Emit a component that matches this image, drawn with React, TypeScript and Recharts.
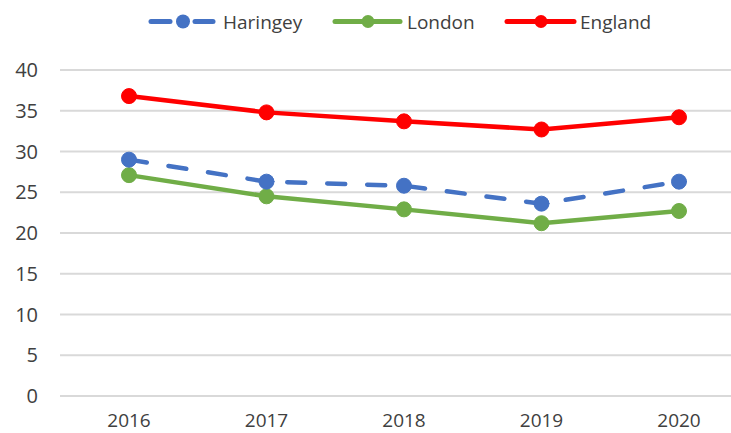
import { LineChart, Line, XAxis, YAxis, CartesianGrid } from 'recharts'

const years = ['2016', '2017', '2018', '2019', '2020']
const haringey = [29.0, 26.3, 25.8, 23.6, 26.3]
const london = [27.1, 24.5, 22.9, 21.2, 22.7]
const england = [36.8, 34.8, 33.7, 32.7, 34.2]
const yTicks = [0, 5, 10, 15, 20, 25, 30, 35, 40]

const data = years.map((year, i) => ({
  year,
  haringey: haringey[i],
  london: london[i],
  england: england[i],
}))

const FONT = "'Open Sans', 'Noto Sans', sans-serif"
const TEXT = '#404040'

const COLORS = {
  haringey: '#4472C4',
  london: '#70AD47',
  england: '#FF0000',
}

function LegendBar() {
  return (
    <svg
      width={731}
      height={45}
      style={{ position: 'absolute', left: 0, top: 0, pointerEvents: 'none' }}
    >
      {/* Haringey - dashed */}
      <line x1={151} y1={21.5} x2={170} y2={21.5} stroke={COLORS.haringey} strokeWidth={5} strokeLinecap="round" />
      <line x1={195} y1={21.5} x2={213} y2={21.5} stroke={COLORS.haringey} strokeWidth={5} strokeLinecap="round" />
      <circle cx={183} cy={21.5} r={7} fill={COLORS.haringey} />
      <text x={223} y={29} fontSize={19} fontFamily={FONT} fill={TEXT}>Haringey</text>

      {/* London */}
      <line x1={335} y1={21.5} x2={400} y2={21.5} stroke={COLORS.london} strokeWidth={5} strokeLinecap="round" />
      <circle cx={368} cy={21.5} r={6.5} fill={COLORS.london} />
      <text x={407} y={29} fontSize={19} fontFamily={FONT} fill={TEXT}>London</text>

      {/* England */}
      <line x1={507} y1={21.5} x2={574} y2={21.5} stroke={COLORS.england} strokeWidth={5} strokeLinecap="round" />
      <circle cx={541} cy={21.5} r={6.5} fill={COLORS.england} />
      <text x={580} y={29} fontSize={19} fontFamily={FONT} fill={TEXT}>England</text>
    </svg>
  )
}

export default function App() {
  return (
    <div
      style={{
        position: 'absolute',
        left: 0,
        top: 0,
        width: 731,
        height: 433,
        overflow: 'hidden',
        background: '#fff',
      }}
    >
      <LineChart
        width={748}
        height={433}
        data={data}
        margin={{ top: 70, right: 0, left: 0, bottom: 0 }}
      >
        <CartesianGrid vertical={false} stroke="#D9D9D9" strokeWidth={2} />
        <XAxis
          dataKey="year"
          axisLine={false}
          tickLine={false}
          tickSize={0}
          tickMargin={18}
          height={37}
          padding={{ left: 69, right: 69 }}
          tick={{ fill: TEXT, fontSize: 19, fontFamily: FONT }}
        />
        <YAxis
          domain={[0, 40]}
          ticks={yTicks}
          axisLine={false}
          tickLine={false}
          tickSize={0}
          tickMargin={22}
          width={60}
          tick={{ fill: TEXT, fontSize: 20, fontFamily: FONT }}
        />
        <Line
          dataKey="england"
          stroke={COLORS.england}
          strokeWidth={4.5}
          dot={{ r: 7.5, fill: COLORS.england, stroke: COLORS.england, strokeWidth: 1 }}
          isAnimationActive={false}
        />
        <Line
          dataKey="london"
          stroke={COLORS.london}
          strokeWidth={4.5}
          dot={{ r: 7.5, fill: COLORS.london, stroke: COLORS.london, strokeWidth: 1 }}
          isAnimationActive={false}
        />
        <Line
          dataKey="haringey"
          stroke={COLORS.haringey}
          strokeWidth={4.5}
          strokeDasharray="18 22"
          strokeLinecap="round"
          dot={{ r: 7.5, fill: COLORS.haringey, stroke: COLORS.haringey, strokeWidth: 1, strokeDasharray: '' }}
          isAnimationActive={false}
        />
      </LineChart>
      <LegendBar />
    </div>
  )
}
